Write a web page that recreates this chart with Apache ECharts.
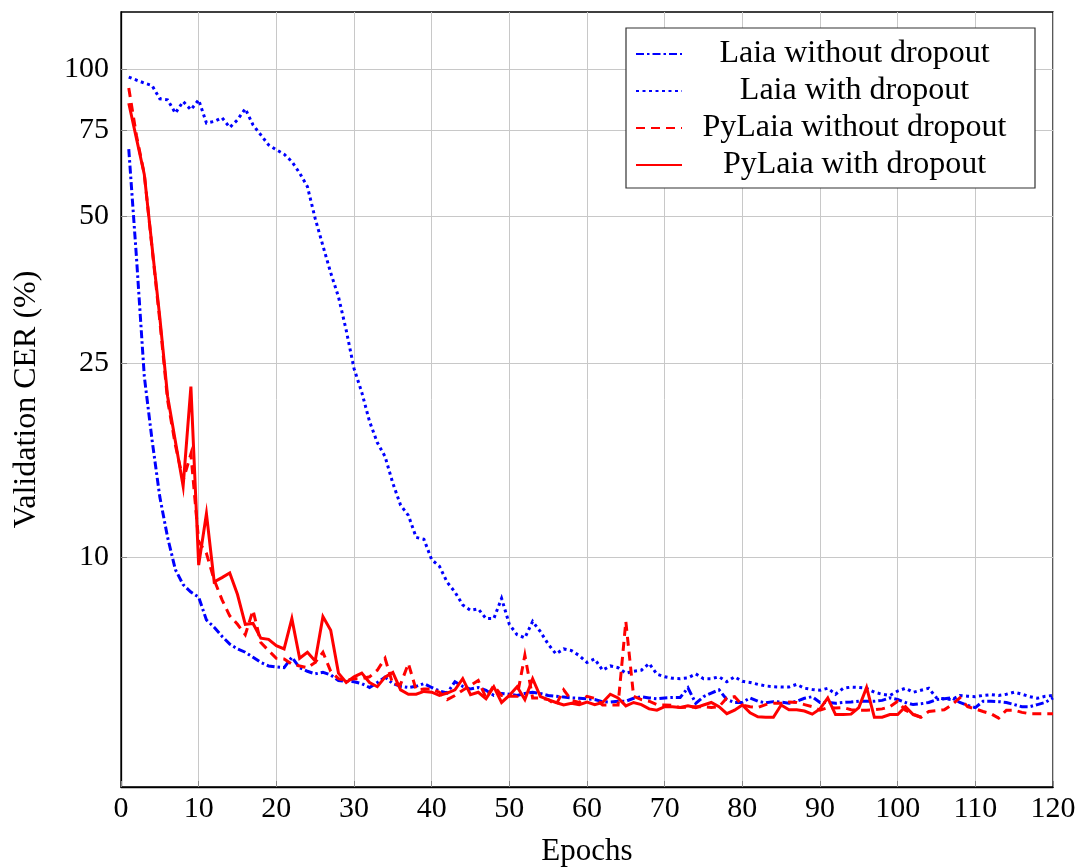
<!DOCTYPE html>
<html>
<head>
<meta charset="utf-8">
<script src="https://cdn.jsdelivr.net/npm/echarts@6/dist/echarts.min.js"></script>
<style>
  html, body { margin: 0; padding: 0; background: #fff; }
  #chart { width: 1079px; height: 867px; }
</style>
</head>
<body>
<div id="chart"></div>
<script>
const FONT = '"Liberation Serif", "DejaVu Serif", serif';

const yTicks = [10, 25, 50, 75, 100];

const laiaNoDrop = [
  68.6, 41, 23.5, 17.4, 13.3, 11.0, 9.45, 8.8, 8.5, 8.3,
  7.45, 7.2, 6.9, 6.65, 6.5, 6.4, 6.25, 6.1, 6.0, 5.97,
  5.95, 6.25, 5.95, 5.85, 5.78, 5.82, 5.75, 5.6, 5.58, 5.57,
  5.52, 5.42, 5.55, 5.69, 5.52, 5.45, 5.42, 5.45, 5.52, 5.42,
  5.33, 5.28, 5.57, 5.45, 5.38, 5.42, 5.35, 5.22, 5.27, 5.25,
  5.22, 5.27, 5.3, 5.27, 5.22, 5.2, 5.18, 5.16, 5.15, 5.14,
  5.12, 5.07, 5.06, 5.08, 5.08, 5.15, 5.19, 5.16, 5.14, 5.16,
  5.17, 5.17, 5.41, 5.03, 5.19, 5.28, 5.36, 5.12, 5.05, 5.05,
  5.16, 5.08, 5.04, 5.07, 5.06, 5.03, 5.08, 5.15, 5.19, 5.05,
  5.05, 5.03, 5.05, 5.06, 5.08, 5.08, 5.08, 5.1, 5.16, 5.12,
  5.05, 5.0, 5.02, 5.05, 5.12, 5.14, 5.16, 5.05, 4.98, 4.93,
  5.08, 5.08, 5.07, 5.05, 5.0, 4.95, 4.95, 5.0, 5.05, 5.16
];

const laiaDrop = [
  96.4, 95, 93.7, 92.6, 87, 86.6, 81.3, 85.9, 82.6, 86.6,
  77.6, 78.2, 79.6, 76, 78.8, 83, 76.9, 73.4, 70, 68.4,
  67, 64.7, 61.3, 57.5, 49.5, 43.5, 38.3, 34.2, 29.2, 24.4,
  21.8, 19.0, 17.2, 16.1, 14.2, 12.8, 12.2, 11.0, 10.9, 9.9,
  9.6, 8.9, 8.5, 8.0, 7.8, 7.85, 7.5, 7.5, 8.25, 7.3,
  6.95, 6.85, 7.4, 7.05, 6.65, 6.35, 6.5, 6.45, 6.3, 6.1,
  6.2, 5.88, 6.0, 5.95, 5.8, 5.85, 5.88, 6.07, 5.77, 5.7,
  5.66, 5.65, 5.67, 5.78, 5.65, 5.65, 5.7, 5.57, 5.7, 5.58,
  5.55, 5.5, 5.46, 5.44, 5.43, 5.43, 5.5, 5.4, 5.37, 5.35,
  5.4, 5.25, 5.4, 5.43, 5.42, 5.4, 5.3, 5.25, 5.22, 5.33,
  5.4, 5.3, 5.35, 5.4, 5.16, 5.14, 5.12, 5.22, 5.2, 5.19,
  5.22, 5.24, 5.22, 5.25, 5.3, 5.25, 5.19, 5.15, 5.2, 5.22
];

const pyNoDrop = [
  91.5, 73, 61, 43, 30.5, 21, 17.0, 14.4, 16.3, 10.8,
  10.2, 9.0, 8.2, 7.6, 7.3, 6.95, 7.8, 6.7, 6.45, 6.22,
  6.2, 6.05, 6.0, 5.95, 6.1, 6.4, 5.85, 5.65, 5.6, 5.65,
  5.65, 5.7, 5.88, 6.22, 5.5, 5.5, 6.07, 5.36, 5.38, 5.38,
  5.3, 5.12, 5.22, 5.35, 5.47, 5.6, 5.16, 5.47, 5.22, 5.2,
  5.2, 6.31, 5.16, 5.16, 5.12, 4.99, 5.36, 5.1, 5.05, 5.2,
  5.15, 4.99, 4.99, 4.99, 7.4, 5.2, 5.12, 5.08, 5.0, 4.99,
  4.98, 4.93, 4.94, 4.95, 4.95, 4.93, 4.95, 5.16, 5.19, 4.99,
  4.95, 4.93, 5.0, 5.03, 5.03, 5.06, 5.05, 5.0, 4.95, 4.87,
  4.93, 4.92, 4.93, 4.88, 4.87, 4.87, 4.88, 4.9, 4.95, 5.08,
  4.87, 4.78, 4.71, 4.84, 4.86, 4.88, 5.0, 5.16, 4.95, 4.9,
  4.84, 4.79, 4.69, 4.87, 4.87, 4.82, 4.79, 4.79, 4.79, 4.79
];

const pyDrop = [
  85.2, 72, 60.9, 43.3, 31, 21.4, 17.3, 14.0, 22.4, 9.65,
  12.3, 8.92, 9.1, 9.3, 8.4, 7.3, 7.33, 6.84, 6.8, 6.6,
  6.5, 7.5, 6.22, 6.4, 6.14, 7.57, 7.1, 5.8, 5.55, 5.7,
  5.8, 5.55, 5.44, 5.69, 5.82, 5.36, 5.25, 5.25, 5.32, 5.3,
  5.22, 5.28, 5.36, 5.65, 5.24, 5.3, 5.14, 5.44, 5.05, 5.22,
  5.44, 5.12, 5.65, 5.19, 5.12, 5.05, 4.99, 5.03, 5.0, 5.06,
  5.0, 5.05, 5.25, 5.16, 4.97, 5.05, 5.0, 4.9, 4.87, 4.95,
  4.95, 4.93, 4.97, 4.93, 4.99, 5.05, 4.95, 4.79, 4.87, 4.99,
  4.81, 4.72, 4.71, 4.71, 4.99, 4.88, 4.88, 4.85, 4.78, 4.9,
  5.16, 4.77, 4.77, 4.78, 4.93, 5.42, 4.71, 4.71, 4.77, 4.77,
  4.95, 4.77, 4.71
];

const epochs = Array.from({ length: 120 }, (_, i) => i + 1);
const pairs = (vals) => vals.map((v, i) => [epochs[i], v]);

const line = (name, vals, color, type) => ({
  name,
  type: 'line',
  data: pairs(vals),
  symbol: 'none',
  showSymbol: false,
  animation: false,
  lineStyle: { color, width: 3, type, cap: 'butt', join: 'miter' },
  itemStyle: { color }
});

const chart = echarts.init(document.getElementById('chart'));
chart.setOption({
  backgroundColor: '#fff',
  animation: false,
  grid: {
    left: 121, right: 26, top: 12, bottom: 80,
    outerBoundsMode: 'none',
    containLabel: false,
    show: true, borderColor: '#000', borderWidth: 1.3, backgroundColor: '#fff'
  },
  legend: {
    orient: 'vertical',
    right: 44,
    top: 28,
    padding: [10, 13, 7, 9],
    itemWidth: 46,
    itemHeight: 14,
    itemGap: 5,
    backgroundColor: '#fff',
    borderColor: '#333',
    borderWidth: 1.2,
    borderRadius: 0,
    itemStyle: { opacity: 0 },
    formatter: (n) => '{t|' + n + '}',
    textStyle: {
      rich: {
        t: { width: 335, align: 'center', fontSize: 32, lineHeight: 32, fontFamily: FONT, color: '#000' }
      }
    }
  },
  xAxis: {
    type: 'value',
    min: 0, max: 120, interval: 10,
    name: 'Epochs',
    nameLocation: 'middle',
    nameGap: 49,
    nameTextStyle: { fontSize: 31, fontFamily: FONT, color: '#000' },
    axisLine: { show: true, lineStyle: { color: '#000', width: 1.3 } },
    axisTick: { show: true, inside: true, length: 6, lineStyle: { color: '#888' } },
    axisLabel: { fontSize: 30, fontFamily: FONT, color: '#000', margin: 7 },
    splitLine: { show: true, lineStyle: { color: '#c8c8c8', width: 1 } }
  },
  yAxis: {
    type: 'log',
    logBase: 10,
    min: 3.39, max: 131,
    name: 'Validation CER (%)',
    nameLocation: 'middle',
    nameGap: 78,
    nameTextStyle: { fontSize: 32, fontFamily: FONT, color: '#000' },
    axisLine: { show: true, lineStyle: { color: '#000', width: 1.3 } },
    axisTick: { show: true, inside: true, length: 6, lineStyle: { color: '#888' }, customValues: yTicks },
    axisLabel: { fontSize: 30, fontFamily: FONT, color: '#000', margin: 12, customValues: yTicks },
    minorTick: { show: false },
    minorSplitLine: { show: false },
    splitLine: { show: true, lineStyle: { color: '#c8c8c8', width: 1 } }
  },
  series: [
    line('Laia without dropout', laiaNoDrop, '#0000ff', [8, 3, 2.5, 3]),
    line('Laia with dropout', laiaDrop, '#0000ff', [3, 3.5]),
    line('PyLaia without dropout', pyNoDrop, '#ff0000', [9, 6]),
    line('PyLaia with dropout', pyDrop, '#ff0000', 'solid')
  ]
});
</script>
</body>
</html>
